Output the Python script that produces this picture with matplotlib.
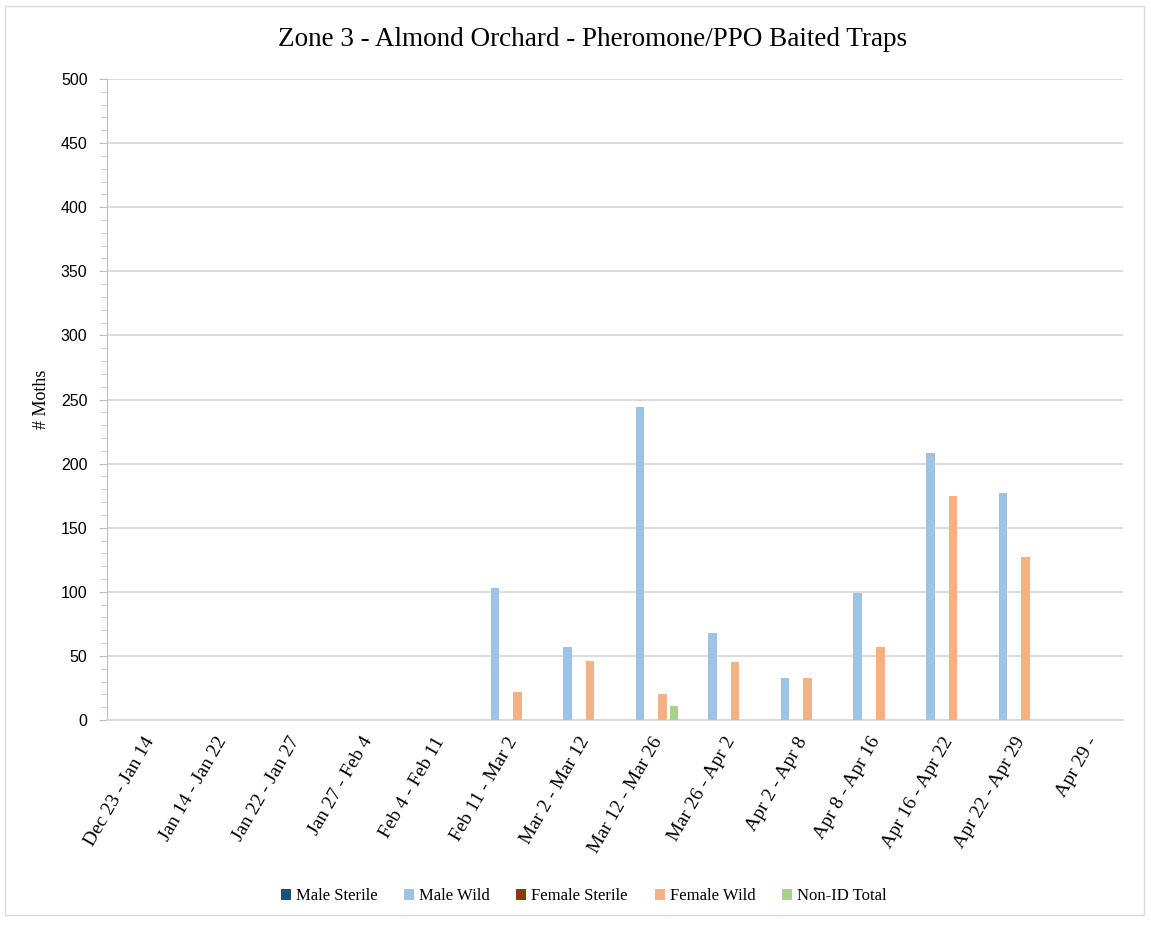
import numpy as np
import matplotlib.pyplot as plt
from matplotlib.ticker import MultipleLocator
from matplotlib.patches import Rectangle

# Zone 3 trap counts
weeks = ['Dec 23 - Jan 14', 'Jan 14 - Jan 22', 'Jan 22 - Jan 27', 'Jan 27 - Feb 4',
         'Feb 4 - Feb 11', 'Feb 11 - Mar 2', 'Mar 2 - Mar 12', 'Mar 12 - Mar 26',
         'Mar 26 - Apr 2', 'Apr 2 - Apr 8', 'Apr 8 - Apr 16', 'Apr 16 - Apr 22',
         'Apr 22 - Apr 29', 'Apr 29 -']
male_sterile = [0, 0, 0, 0, 0, 0, 0, 0, 0, 0, 0, 0, 0, 0]
male_wild = [0, 0, 0, 0, 0, 103, 57, 244, 68, 33, 99, 208, 177, 0]
female_sterile = [0, 0, 0, 0, 0, 0, 0, 0, 0, 0, 0, 0, 0, 0]
female_wild = [0, 0, 0, 0, 0, 22, 46, 20, 45, 33, 57, 175, 127, 0]
non_id = [0, 0, 0, 0, 0, 0, 0, 11, 0, 0, 0, 0, 0, 0]

series = [('Male Sterile', male_sterile, '#1F4E79'),
          ('Male Wild', male_wild, '#9DC3E6'),
          ('Female Sterile', female_sterile, '#843C0C'),
          ('Female Wild', female_wild, '#F4B183'),
          ('Non-ID Total', non_id, '#A9D18E')]

serif = ['Liberation Serif', 'DejaVu Serif']
sans = ['Liberation Sans', 'DejaVu Sans']

fig = plt.figure(figsize=(11.51, 9.26), dpi=100)
fig.patches.append(Rectangle((0.004, 0.012), 0.99, 0.981, transform=fig.transFigure,
                             fill=False, edgecolor='#D9D9D9', linewidth=1))
ax = fig.add_axes([107 / 1151, 1 - 720 / 926, 1016 / 1151, 641 / 926])

x = np.arange(len(weeks))
step = 0.155
width = 0.118
for i, (name, vals, col) in enumerate(series):
    ax.bar(x + (i - 2) * step, vals, width, color=col, label=name, zorder=3)

ax.set_xlim(-0.5, len(weeks) - 0.5)
ax.set_ylim(0, 500)
ax.yaxis.set_major_locator(MultipleLocator(50))
ax.yaxis.set_minor_locator(MultipleLocator(10))
ax.grid(axis='y', color='#D9D9D9', linewidth=1.3, zorder=0)

for s in ['top', 'right']:
    ax.spines[s].set_visible(False)
ax.spines['left'].set_color('#BFBFBF')
ax.spines['bottom'].set_color('#D9D9D9')
ax.spines['bottom'].set_linewidth(1.3)

ax.tick_params(axis='y', which='major', length=6, color='#BFBFBF', labelsize=11.5, pad=8)
ax.tick_params(axis='y', which='minor', length=4, color='#BFBFBF')
ax.tick_params(axis='x', length=0, pad=10)
for lab in ax.get_yticklabels():
    lab.set_family(sans)

ax.set_xticks(x)
ax.set_xticklabels(weeks, rotation=60, ha='right', rotation_mode='anchor',
                   fontsize=14, family=serif)

ax.set_ylabel('# Moths', family=serif, fontsize=13, labelpad=8)
fig.text(0.515, 0.957, 'Zone 3 - Almond Orchard - Pheromone/PPO Baited Traps',
         ha='center', va='center', family=serif, fontsize=19.5)

fig.legend(loc='center', bbox_to_anchor=(0.507, 0.032), ncol=5, frameon=False,
           prop={'family': serif, 'size': 12}, handlelength=0.6, handleheight=0.6,
           handletextpad=0.3, columnspacing=1.6)

fig.savefig('out.png', dpi=100)
